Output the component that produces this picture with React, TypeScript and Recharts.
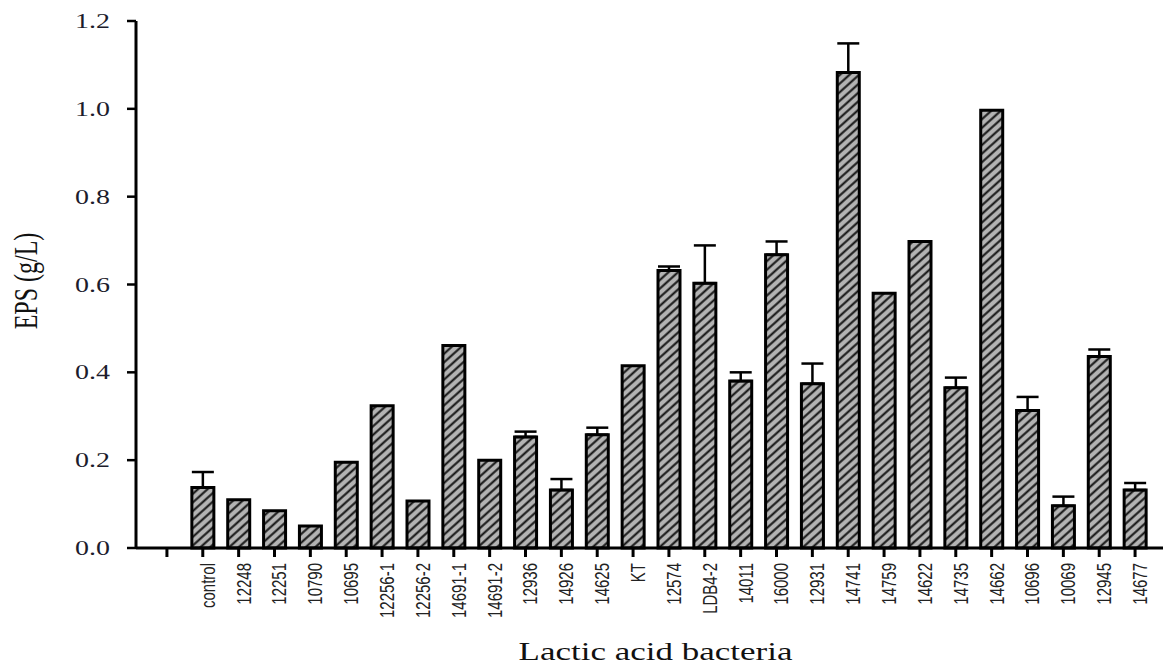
import React from 'react'
import { BarChart, Bar, XAxis, YAxis, ErrorBar, Label } from 'recharts'

// strains on the x axis (first slot is an empty spacer tick)
const strains = [
  '', 'control', '12248', '12251', '10790', '10695', '12256-1', '12256-2',
  '14691-1', '14691-2', '12936', '14926', '14625', 'KT', '12574', 'LDB4-2',
  '14011', '16000', '12931', '14741', '14759', '14622', '14735', '14662',
  '10696', '10069', '12945', '14677',
]

// EPS yield, g/L
const epsMean = [
  null, 0.138, 0.11, 0.085, 0.05, 0.195, 0.324, 0.107,
  0.461, 0.2, 0.253, 0.132, 0.258, 0.415, 0.632, 0.603,
  0.38, 0.668, 0.374, 1.083, 0.58, 0.698, 0.365, 0.997,
  0.313, 0.096, 0.436, 0.132,
]

// upper error (SD), null where no bar is visible
const epsErr = [
  null, 0.035, null, null, null, null, null, null,
  null, null, 0.012, 0.025, 0.016, null, 0.009, 0.086,
  0.02, 0.03, 0.046, 0.066, null, null, 0.023, null,
  0.031, 0.021, 0.016, 0.016,
]

const yTicks = [0, 0.2, 0.4, 0.6, 0.8, 1.0, 1.2]

const data = strains.map((name, i) => ({
  name,
  eps: epsMean[i],
  err: epsErr[i] == null ? null : [0, epsErr[i]],
}))

// the original figure is stretched horizontally, so text is too
const STRETCH = 1.4

const XTick = ({ x, y, payload }: any) => (
  <g transform={`translate(${x},${y}) scale(${STRETCH},1) rotate(-90)`}>
    <text
      textAnchor="end"
      dy={8.5}
      fontFamily="'Liberation Sans', Arial, sans-serif"
      fontSize={15}
      fill="#222"
    >
      {payload.value}
    </text>
  </g>
)

const YTick = ({ x, y, payload }: any) => (
  <g transform={`translate(${x},${y}) scale(${STRETCH},1)`}>
    <text
      textAnchor="end"
      dy="0.35em"
      fontFamily="'Liberation Serif', 'Times New Roman', serif"
      fontSize={20}
      fill="#1c1c2c"
    >
      {Number(payload.value).toFixed(1)}
    </text>
  </g>
)

export default function App() {
  return (
    <div style={{ width: 1163, height: 666, background: '#fff' }}>
      <style>{'body{margin:0}'}</style>
      <BarChart
        width={1163}
        height={666}
        data={data}
        margin={{ top: 21, right: 0, left: 0, bottom: 0 }}
      >
        <defs>
          <pattern
            id="hatch"
            patternUnits="userSpaceOnUse"
            width={10}
            height={6.4}
            patternTransform="rotate(-42)"
          >
            <rect width={10} height={6.4} fill="#b3b3b3" />
            <line x1={0} y1={3.2} x2={10} y2={3.2} stroke="#111" strokeWidth={2} />
          </pattern>
        </defs>
        <XAxis
          dataKey="name"
          height={118}
          padding={{ left: 13, right: 10 }}
          interval={0}
          tickSize={9}
          tickMargin={6}
          axisLine={{ stroke: '#000', strokeWidth: 3 }}
          tickLine={{ stroke: '#000', strokeWidth: 3 }}
          tick={<XTick />}
        >
          <Label
            content={({ viewBox }: any) => (
              <g
                transform={`translate(${viewBox.x + viewBox.width / 2 + 6},${viewBox.y + 112}) scale(${STRETCH},1)`}
              >
                <text
                  textAnchor="middle"
                  fontFamily="'Liberation Serif', 'Times New Roman', serif"
                  fontSize={25}
                  fill="#111"
                >
                  Lactic acid bacteria
                </text>
              </g>
            )}
          />
        </XAxis>
        <YAxis
          width={136}
          domain={[0, 1.2]}
          ticks={yTicks}
          interval={0}
          tickSize={9}
          tickMargin={17}
          axisLine={{ stroke: '#000', strokeWidth: 3 }}
          tickLine={{ stroke: '#000', strokeWidth: 2.5 }}
          tick={<YTick />}
        >
          <Label
            content={({ viewBox }: any) => (
              <g
                transform={`translate(${viewBox.x + 37},${viewBox.y + 260}) scale(${STRETCH},1) rotate(-90)`}
              >
                <text
                  textAnchor="middle"
                  fontFamily="'Liberation Serif', 'Times New Roman', serif"
                  fontSize={24}
                  fill="#111"
                >
                  EPS (g/L)
                </text>
              </g>
            )}
          />
        </YAxis>
        <Bar
          dataKey="eps"
          fill="url(#hatch)"
          stroke="#000"
          strokeWidth={3}
          barSize={22}
          isAnimationActive={false}
        >
          <ErrorBar
            dataKey="err"
            direction="y"
            width={11}
            stroke="#000"
            strokeWidth={2.5}
            isAnimationActive={false}
          />
        </Bar>
      </BarChart>
    </div>
  )
}
